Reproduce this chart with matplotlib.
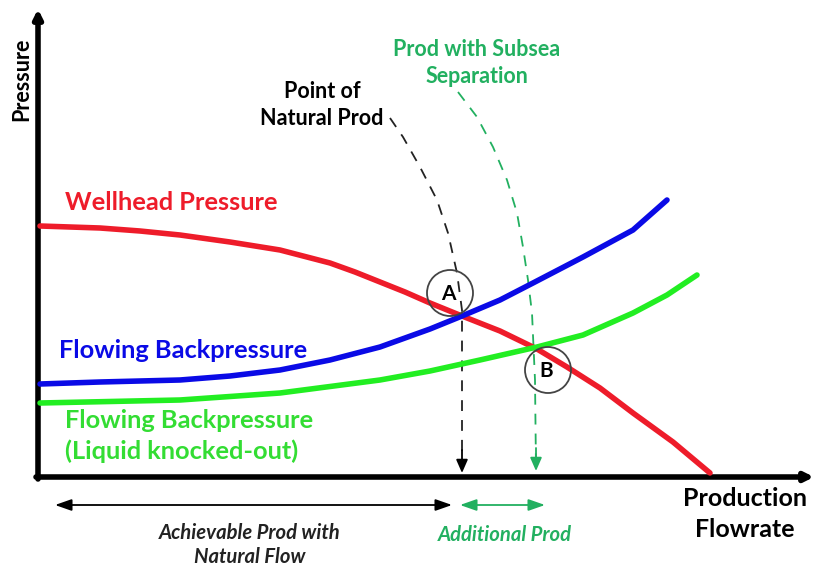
import matplotlib
matplotlib.use("Agg")
import matplotlib.pyplot as plt
from matplotlib.patches import Circle

plt.rcParams['font.family'] = ['Lato', 'DejaVu Sans']

# ---- data (flowrate, pressure in arbitrary units; origin at axes corner) ----
red_flow = [2, 62, 102, 142, 192, 242, 292, 317, 342, 367, 392, 424, 462, 499, 529, 562, 595, 635, 672]
red_pres = [251, 249, 246, 242, 235, 227, 214, 205, 195, 185, 174, 161, 146, 128, 110, 89, 64, 35, 4]

blue_flow = [2, 62, 142, 192, 242, 292, 342, 392, 424, 462, 495, 545, 595, 629]
blue_pres = [93, 95, 97, 101, 107, 117, 130, 148, 161, 177, 194, 220, 247, 277]

green_flow = [2, 142, 242, 342, 392, 442, 499, 545, 595, 629, 659]
green_pres = [74, 77, 84, 97, 106, 117, 130, 142, 164, 182, 202]

nat_flow = [352, 365, 382, 399, 410, 419, 424, 424]
nat_pres = [359, 340, 310, 277, 244, 204, 167, 7]

sub_flow = [420, 439, 455, 469, 479, 485, 490, 494, 497, 498]
sub_pres = [385, 360, 330, 297, 264, 230, 197, 164, 97, 9]

point_A = (412, 184)
point_B = (510, 107)

range_natural = (17, 414)
range_additional = (422, 507)

fig = plt.figure(figsize=(8.16, 5.66), dpi=100)
ax = fig.add_axes([0, 0, 1, 1])
ax.set_xlim(-38, 778)
ax.set_ylim(-89, 477)
ax.axis('off')

RED = '#ee1c2a'
BLUE = '#0a0ae6'
LIME = '#22ee22'
LIME_TXT = '#33dd33'
SEA = '#22b060'

# axes
ax.annotate('', xy=(776, 0), xytext=(-2, 0),
            arrowprops=dict(arrowstyle='-|>,head_length=0.5,head_width=0.25', lw=4, color='black',
                            shrinkA=0, shrinkB=0))
ax.annotate('', xy=(0, 468), xytext=(0, -2),
            arrowprops=dict(arrowstyle='-|>,head_length=0.5,head_width=0.25', lw=4, color='black',
                            shrinkA=0, shrinkB=0))

# curves
ax.plot(red_flow, red_pres, color=RED, lw=4, solid_capstyle='round', solid_joinstyle='round', zorder=3)
ax.plot(blue_flow, blue_pres, color=BLUE, lw=4, solid_capstyle='round', solid_joinstyle='round', zorder=4)
ax.plot(green_flow, green_pres, color=LIME, lw=4, solid_capstyle='round', solid_joinstyle='round', zorder=3)

# dashed guide lines
ax.plot(nat_flow, nat_pres, color='#222222', lw=1.3, ls=(0, (6, 5)), zorder=2)
ax.annotate('', xy=(nat_flow[-1], nat_pres[-1] - 3), xytext=(nat_flow[-1], nat_pres[-1] + 20),
            arrowprops=dict(arrowstyle='-|>,head_length=0.8,head_width=0.35', lw=1.3, color='black',
                            shrinkA=0, shrinkB=0))
ax.plot(sub_flow, sub_pres, color=SEA, lw=1.3, ls=(0, (6, 5)), zorder=2)
ax.annotate('', xy=(sub_flow[-1], sub_pres[-1] - 3), xytext=(sub_flow[-1], sub_pres[-1] + 20),
            arrowprops=dict(arrowstyle='-|>,head_length=0.8,head_width=0.35', lw=1.3, color=SEA,
                            shrinkA=0, shrinkB=0))

# circles A, B
for (cx, cy), lab in [(point_A, 'A'), (point_B, 'B')]:
    ax.add_patch(Circle((cx, cy), 23, fill=False, ec='#444444', lw=1.3, zorder=5))
    ax.text(cx - 2, cy - 1, lab, ha='center', va='center', fontsize=15, fontweight='bold', zorder=6)

# labels
ax.text(-16, 398, 'Pressure', rotation=90, ha='center', va='center', fontsize=15.5, fontweight='bold')
ax.text(707, -37, 'Production\nFlowrate', ha='center', va='center', fontsize=18, fontweight='bold',
        linespacing=1.4)
ax.text(27, 274, 'Wellhead Pressure', ha='left', va='center', fontsize=18.3, fontweight='bold', color=RED)
ax.text(21, 127, 'Flowing Backpressure', ha='left', va='center', fontsize=18.3, fontweight='bold', color=BLUE)
ax.text(27, 41, 'Flowing Backpressure\n(Liquid knocked-out)', ha='left', va='center', fontsize=18.3,
        fontweight='bold', color=LIME_TXT, linespacing=1.4)
ax.text(284, 372, 'Point of\nNatural Prod', ha='center', va='center', fontsize=15.5, fontweight='bold',
        linespacing=1.3)
ax.text(439, 414, 'Prod with Subsea\nSeparation', ha='center', va='center', fontsize=15.5,
        fontweight='bold', color=SEA, linespacing=1.35)

# bottom range arrows
ax.annotate('', xy=(range_natural[0], -28), xytext=(range_natural[1], -28),
            arrowprops=dict(arrowstyle='<|-|>,head_length=1.0,head_width=0.35', lw=1.3, color='black',
                            shrinkA=0, shrinkB=0))
ax.annotate('', xy=(range_additional[0], -28), xytext=(range_additional[1], -28),
            arrowprops=dict(arrowstyle='<|-|>,head_length=1.0,head_width=0.35', lw=1.3, color=SEA,
                            shrinkA=0, shrinkB=0))
ax.text(212, -68, 'Achievable Prod with\nNatural Flow', ha='center', va='center', fontsize=14.6,
        fontweight='bold', style='italic', linespacing=1.3, color='#222222')
ax.text(467, -58, 'Additional Prod', ha='center', va='center', fontsize=14.6, fontweight='bold',
        style='italic', color=SEA)

fig.savefig('out.png', dpi=100)
